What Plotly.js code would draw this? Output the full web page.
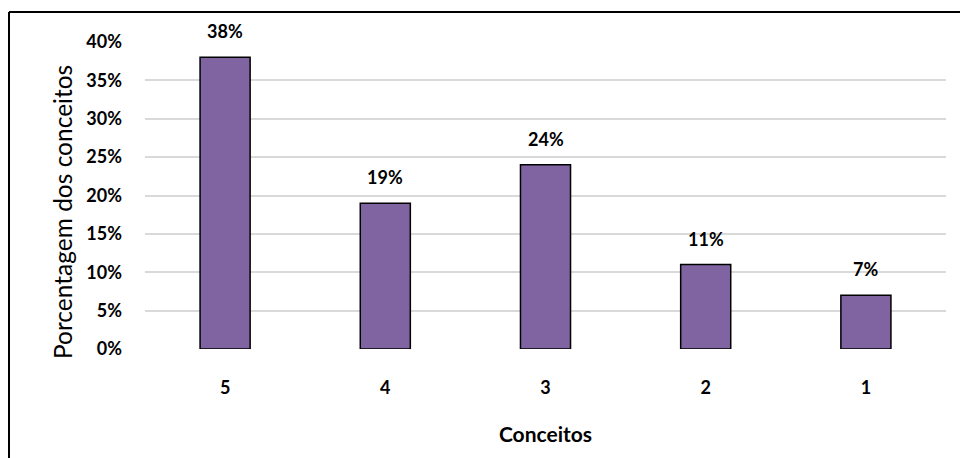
<!DOCTYPE html>
<html>
<head>
<meta charset="utf-8">
<script src="https://cdn.plot.ly/plotly-3.0.1.min.js"></script>
<style>html,body{margin:0;padding:0;background:#fff;}#chart{width:960px;height:458px;}</style>
</head>
<body>
<div id="chart"></div>
<script>
const categories = ['5', '4', '3', '2', '1'];
const values = [0.38, 0.19, 0.24, 0.11, 0.07];
const valueLabels = ['38%', '19%', '24%', '11%', '7%'];
const yTickVals = [0, 0.05, 0.10, 0.15, 0.20, 0.25, 0.30, 0.35, 0.40];
const yTickText = ['0%', '5%', '10%', '15%', '20%', '25%', '30%', '35%', '40%'];
const xTitle = 'Conceitos';
const yTitle = 'Porcentagem dos conceitos';

const W = 960, H = 458, L = 145, R = 14, T = 42, B = 109;
const pw = W - L - R, ph = H - T - B;
const boldFont = {family: 'Lato, sans-serif', size: 18, color: '#000', weight: 'bold'};

const trace = {
  type: 'bar',
  x: categories,
  y: values,
  width: 0.3125,
  marker: {color: '#8064A2', line: {color: '#000000', width: 1.5}},
  hoverinfo: 'none'
};

const annotations = categories.map((c, i) => ({
  x: i, y: values[i], xref: 'x', yref: 'y',
  text: valueLabels[i],
  showarrow: false, yanchor: 'bottom', yshift: 13,
  font: boldFont
}));
annotations.push({
  xref: 'paper', yref: 'paper',
  x: (62 - L) / pw, y: (H - B - 212) / ph,
  xanchor: 'center', yanchor: 'middle', textangle: -90,
  text: yTitle, showarrow: false,
  font: {family: 'Lato, sans-serif', size: 24.5, color: '#000'}
});

const layout = {
  width: W, height: H,
  margin: {l: L, r: R, t: T, b: B, pad: 0},
  paper_bgcolor: '#fff', plot_bgcolor: '#fff',
  showlegend: false,
  xaxis: {
    type: 'category',
    range: [-0.5, categories.length - 0.5],
    tickvals: categories, ticktext: categories,
    tickfont: boldFont,
    ticks: '', showline: false, showgrid: false, zeroline: false,
    ticklabelstandoff: 26,
    title: {text: xTitle, font: {family: 'Lato, sans-serif', size: 21, color: '#000', weight: 'bold'}, standoff: 30}
  },
  yaxis: {
    range: [0, 0.40],
    tickvals: yTickVals, ticktext: yTickText,
    tickfont: boldFont,
    ticks: '', showline: false, zeroline: false,
    gridcolor: '#d9d9d9', gridwidth: 2,
    ticklabelstandoff: 22
  },
  annotations: annotations,
  shapes: [
    {type: 'line', xref: 'paper', yref: 'paper', x0: (9 - L) / pw, x1: (W - L) / pw + 0.01, y0: (H - B - 12) / ph, y1: (H - B - 12) / ph, line: {color: '#000', width: 2}},
    {type: 'line', xref: 'paper', yref: 'paper', x0: (9 - L) / pw, x1: (9 - L) / pw, y0: (H - B - 12) / ph, y1: -(B + 5) / ph, line: {color: '#000', width: 2}}
  ]
};

Plotly.newPlot('chart', [trace], layout, {displayModeBar: false, staticPlot: true});
</script>
</body>
</html>
